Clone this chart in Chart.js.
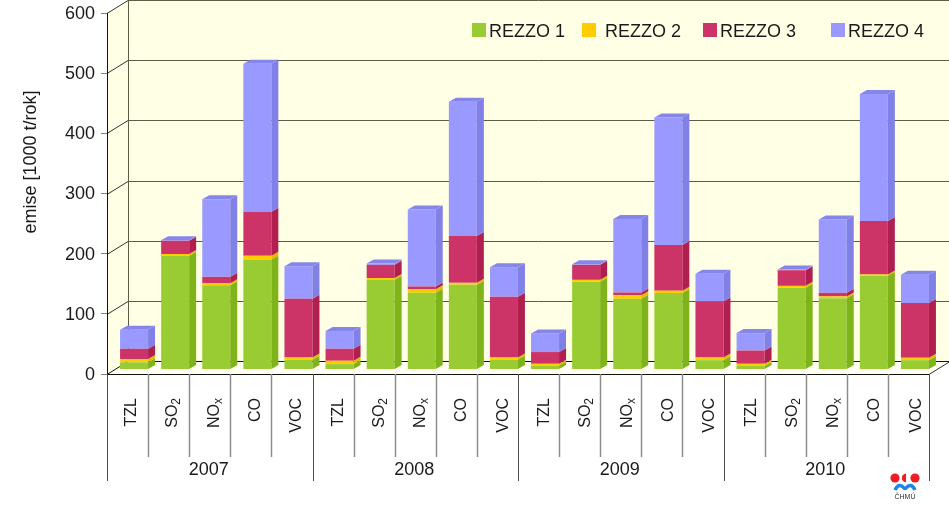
<!DOCTYPE html>
<html>
<head>
<meta charset="utf-8">
<title>emise REZZO</title>
<script src="https://cdn.jsdelivr.net/npm/chart.js@4"></script>
<style>
  html, body { margin: 0; padding: 0; background: #fff; }
  canvas { display: block; }
</style>
</head>
<body>
<canvas id="emiseChart" width="949" height="511"></canvas>
<script>
const pollutants = ['TZL', 'SO₂', 'NOₓ', 'CO', 'VOC'];
const years = ['2007', '2008', '2009', '2010'];
const categories = years.flatMap(() => pollutants);
const yTicks = [0, 100, 200, 300, 400, 500, 600];

const rezzo1 = [12, 189, 140, 183, 16,   9, 149, 127.5, 141, 16.5,   6.5, 146, 117.5, 127, 15.5,   6, 136, 118.5, 156, 15.5];
const rezzo2 = [5.5, 3, 3.5, 6, 4,   5.5, 3, 6, 3, 3.5,   3, 3, 6, 4, 4.5,   3.5, 3, 3, 2, 4];
const rezzo3 = [17, 22, 10.5, 73, 97.5,   20, 22, 4.5, 78, 101,   19.5, 25, 4.5, 76, 93,   22, 26, 6, 89, 91];
const rezzo4 = [31.5, 1, 129, 246, 54,   29.5, 2, 128, 223, 49,   31, 1, 122, 212, 46,   29, 1, 122, 211, 47];

const font = '"Liberation Sans", Arial, sans-serif';
const textColor = '#1a1a1a';

// perspective of the walls and of the bars
const wallX = 21, wallY = 13;
const barShiftX = 6.5, barShiftY = -4.5;
const barDepthX = 7, barDepthY = 4;

const subscripts = { '₂': '2', 'ₓ': 'x' };

const series = [
    { label: 'REZZO 1', data: rezzo1, front: '#99cc33', side: '#7fb31a', top: '#8abf26', legendBox: 472, legendText: 489 },
    { label: 'REZZO 2', data: rezzo2, front: '#ffcc00', side: '#e6b800', top: '#f2c200', legendBox: 582, legendText: 605 },
    { label: 'REZZO 3', data: rezzo3, front: '#cc3366', side: '#b01f50', top: '#bb2a5a', legendBox: 703, legendText: 720 },
    { label: 'REZZO 4', data: rezzo4, front: '#9999ff', side: '#8080e6', top: '#8686ea', legendBox: 831, legendText: 848 }
];

function fillPoly(ctx, color, pts) {
    ctx.fillStyle = color;
    ctx.beginPath();
    pts.forEach((p, i) => i ? ctx.lineTo(p[0], p[1]) : ctx.moveTo(p[0], p[1]));
    ctx.closePath();
    ctx.fill();
}

function line(ctx, color, x1, y1, x2, y2, width) {
    ctx.strokeStyle = color;
    ctx.lineWidth = width || 1;
    ctx.beginPath();
    ctx.moveTo(x1, y1);
    ctx.lineTo(x2, y2);
    ctx.stroke();
}

function noPadding(s) {
    s.paddingTop = s.paddingBottom = s.paddingLeft = s.paddingRight = 0;
}

// rotated category label, the subscript is a smaller text at the top end
function drawCategory(ctx, label, x) {
    const last = label[label.length - 1];
    const sub = subscripts[last] || '';
    const main = sub ? label.slice(0, -1) : label;
    ctx.save();
    ctx.translate(x, 398);
    ctx.rotate(-Math.PI / 2);
    ctx.textAlign = 'right';
    ctx.textBaseline = 'alphabetic';
    ctx.fillStyle = textColor;
    ctx.font = '12px ' + font;
    const subWidth = sub ? ctx.measureText(sub).width : 0;
    if (sub) ctx.fillText(sub, 0, 3);
    ctx.font = '16px ' + font;
    ctx.fillText(main, -subWidth, 0);
    ctx.restore();
}

const scene3d = {
    id: 'scene3d',
    beforeDraw(chart) {
        const ctx = chart.ctx;
        const { left, right, top, bottom } = chart.chartArea;
        const y = chart.scales.y;
        ctx.save();
        fillPoly(ctx, '#ffffe6', [[left + wallX, top - wallY], [chart.width, top - wallY], [chart.width, bottom - wallY], [left + wallX, bottom - wallY]]);
        fillPoly(ctx, '#ffffe6', [[left, top], [left + wallX, top - wallY], [left + wallX, bottom - wallY], [left, bottom]]);
        fillPoly(ctx, '#fffff4', [[left, bottom], [left + wallX, bottom - wallY], [chart.width, bottom - wallY], [right, bottom]]);
        yTicks.forEach(v => {
            const py = Math.round(y.getPixelForValue(v)) + 0.5;
            const color = v === 0 ? '#111111' : '#5c5c48';
            line(ctx, color, left + wallX, py - wallY, chart.width, py - wallY);
            line(ctx, v === 0 ? '#111111' : '#333333', left, py, left + wallX, py - wallY);
        });
        line(ctx, '#5c5c48', left + wallX + 0.5, top - wallY, left + wallX + 0.5, bottom - wallY);
        line(ctx, '#333333', right, Math.round(bottom) + 0.5, right + wallX, Math.round(bottom) + 0.5 - wallY);
        ctx.restore();
    },
    beforeDatasetsDraw(chart) {
        chart.ctx.save();
        chart.ctx.translate(barShiftX, barShiftY);
    },
    afterDatasetsDraw(chart) {
        const ctx = chart.ctx;
        chart.data.datasets.forEach((ds, d) => {
            const s = series[d];
            chart.getDatasetMeta(d).data.forEach(bar => {
                const r = bar.x + bar.width / 2;
                const l = bar.x - bar.width / 2;
                fillPoly(ctx, s.side, [[r, bar.y], [r + barDepthX, bar.y - barDepthY], [r + barDepthX, bar.base - barDepthY], [r, bar.base]]);
                if (d === chart.data.datasets.length - 1) {
                    fillPoly(ctx, s.top, [[l, bar.y], [l + barDepthX, bar.y - barDepthY], [r + barDepthX, bar.y - barDepthY], [r, bar.y]]);
                }
            });
        });
        ctx.restore();
    },
    afterDraw(chart) {
        const ctx = chart.ctx;
        const { left, right, bottom } = chart.chartArea;
        const step = (right - left) / categories.length;
        ctx.save();

        // separators under the axis
        for (let i = 0; i <= categories.length; i++) {
            const px = Math.round(left + i * step) + 0.5;
            const isYear = i % pollutants.length === 0;
            line(ctx, isYear ? '#4d4d4d' : '#8c8c8c', px, bottom, px, isYear ? 481 : 457, isYear ? 1 : 1.5);
        }

        // category labels, their spacing in the picture is a bit wider than the slots
        categories.forEach((label, i) => {
            drawCategory(ctx, label, chart.scales.x.getPixelForTick(i) + 8.5 + i * 0.2);
        });

        // axis title
        ctx.fillStyle = textColor;
        ctx.font = '18px ' + font;
        ctx.textAlign = 'center';
        ctx.textBaseline = 'middle';
        ctx.save();
        ctx.translate(31, 162);
        ctx.rotate(-Math.PI / 2);
        ctx.fillText('emise [1000 t/rok]', 0, 0);
        ctx.restore();

        // legend
        ctx.textAlign = 'left';
        series.forEach(s => {
            ctx.fillStyle = s.front;
            ctx.fillRect(s.legendBox, 23, 14, 14);
            ctx.fillStyle = textColor;
            ctx.fillText(s.label, s.legendText, 32);
        });

        // logo
        ctx.fillStyle = '#ee1c25';
        ctx.beginPath(); ctx.arc(895, 478, 4.6, 0, Math.PI * 2); ctx.fill();
        ctx.beginPath(); ctx.arc(915, 478, 4.6, 0, Math.PI * 2); ctx.fill();
        ctx.beginPath(); ctx.arc(906, 478, 4.2, Math.PI / 2, Math.PI * 1.5); ctx.fill();
        ctx.strokeStyle = '#1e84e8';
        ctx.lineWidth = 3.5;
        ctx.beginPath();
        ctx.moveTo(895, 490);
        ctx.quadraticCurveTo(899, 482, 904, 488);
        ctx.quadraticCurveTo(905, 489, 906, 488);
        ctx.quadraticCurveTo(911, 482, 915, 490);
        ctx.stroke();
        ctx.fillStyle = '#333333';
        ctx.font = '7px ' + font;
        ctx.textAlign = 'center';
        ctx.fillText('ČHMÚ', 905, 497);
        ctx.restore();
    }
};

Chart.defaults.font.family = font;
Chart.defaults.color = textColor;

const emiseChart = new Chart(document.getElementById('emiseChart').getContext('2d'), {
    type: 'bar',
    data: {
        labels: categories,
        datasets: series.map(s => ({
            label: s.label,
            data: s.data,
            backgroundColor: s.front,
            barPercentage: 0.681,
            categoryPercentage: 1,
            clip: false
        }))
    },
    options: {
        responsive: false,
        animation: false,
        layout: { padding: { top: 13, right: 20, bottom: 0, left: 0 } },
        plugins: {
            legend: { display: false },
            tooltip: { enabled: false }
        },
        scales: {
            x: {
                stacked: true,
                weight: 0,
                afterFit: s => { s.height = 83; noPadding(s); },
                grid: { display: false },
                border: { color: '#111111' },
                ticks: { display: false, autoSkip: false }
            },
            years: {
                type: 'category',
                axis: 'x',
                position: 'bottom',
                weight: 1,
                labels: years,
                afterFit: s => { s.height = 54; noPadding(s); },
                grid: { display: false, drawTicks: false, tickLength: 0 },
                border: { display: false },
                ticks: {
                    maxRotation: 0,
                    padding: 2,
                    labelOffset: -1,
                    font: { size: 18 }
                }
            },
            y: {
                stacked: true,
                min: 0,
                max: 600,
                afterFit: s => { s.width = 107; noPadding(s); },
                afterBuildTicks: s => { s.ticks = yTicks.map(v => ({ value: v })); },
                grid: { drawOnChartArea: false, tickLength: 6, tickColor: '#808080' },
                border: { color: '#111111' },
                ticks: { padding: 6, labelOffset: 1, font: { size: 18 } }
            }
        }
    },
    plugins: [scene3d]
});
</script>
</body>
</html>
